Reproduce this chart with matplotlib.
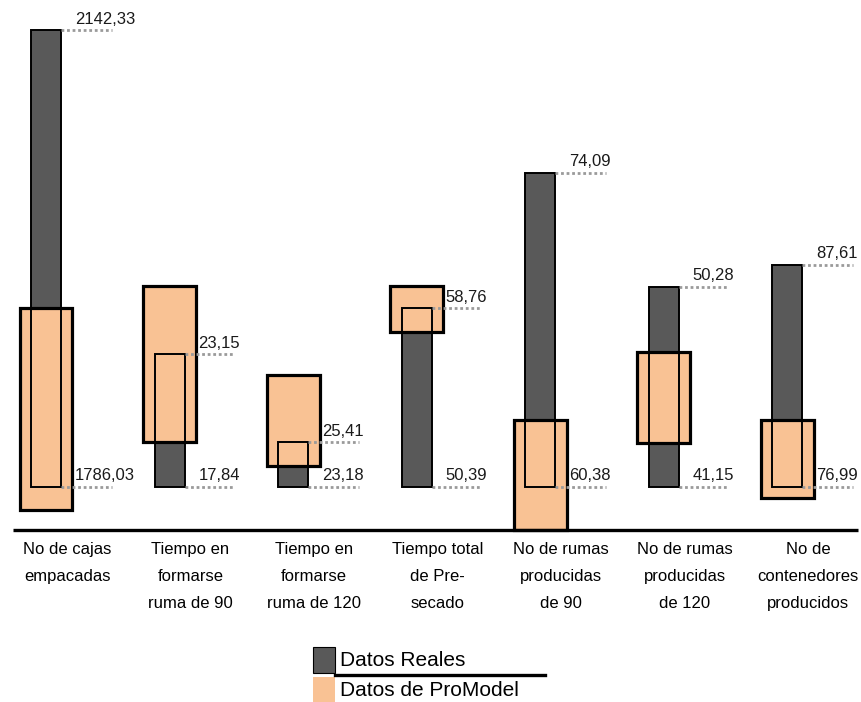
import matplotlib.pyplot as plt
from matplotlib import font_manager
from matplotlib.patches import Rectangle
from matplotlib.lines import Line2D

categories = [
    "No de cajas\nempacadas",
    "Tiempo en\nformarse\nruma de 90",
    "Tiempo en\nformarse\nruma de 120",
    "Tiempo total\nde Pre-\nsecado",
    "No de rumas\nproducidas\nde 90",
    "No de rumas\nproducidas\nde 120",
    "No de\ncontenedores\nproducidos",
]

# bar extents (chart units, baseline line = 0)
real_low = [8.6, 8.6, 8.6, 8.6, 8.6, 8.6, 8.6]
real_high = [100.0, 35.2, 17.6, 44.4, 71.4, 48.6, 53.0]
model_low = [4.0, 17.6, 12.8, 39.6, 0.0, 17.4, 6.4]
model_high = [44.4, 48.8, 31.0, 48.8, 22.0, 35.6, 22.0]

top_labels = ["2142,33", "23,15", "25,41", "58,76", "74,09", "50,28", "87,61"]
bottom_labels = ["1786,03", "17,84", "23,18", "50,39", "60,38", "41,15", "76,99"]

series = ["Datos Reales", "Datos de ProModel"]

dark = "#595959"
orange = "#F9C294"

names = {f.name for f in font_manager.fontManager.ttflist}
narrow = "Liberation Sans Narrow" if "Liberation Sans Narrow" in names else "Liberation Sans"
plt.rcParams["font.family"] = ["Liberation Sans", "DejaVu Sans"]

fig = plt.figure(figsize=(8.61, 7.02), dpi=100)
ax = fig.add_axes([0, 0, 1, 1])
ax.set_xlim(-0.5425, 6.429)
ax.set_ylim(-34.4, 106)
ax.axis("off")

x = [i - 0.17 for i in range(len(categories))]
w_real = 0.243
w_model = 0.429

real_h = [h - l for h, l in zip(real_high, real_low)]
model_h = [h - l for h, l in zip(model_high, model_low)]

ax.bar(x, real_h, bottom=real_low, width=w_real, color=dark, zorder=2)
ax.bar(x, model_h, bottom=model_low, width=w_model, color=orange,
       edgecolor="black", linewidth=2.3, zorder=3)
ax.bar(x, real_h, bottom=real_low, width=w_real, fill=False,
       edgecolor="black", linewidth=1.4, zorder=4)

for xi, lo, hi, tl, bl in zip(x, real_low, real_high, top_labels, bottom_labels):
    for val, lab in ((hi, tl), (lo, bl)):
        ax.hlines(val, xi + w_real / 2, xi + 0.534, colors="#9a9a9a",
                  linestyles=(0, (1, 1)), linewidth=2, zorder=5)
        ax.text(xi + 0.235, val + 1.3, lab, family=narrow, fontsize=12,
                color="#1a1a1a", ha="left", va="baseline", zorder=6)

ax.hlines(0, -0.437, 6.405, colors="black", linewidth=2.4, zorder=6)

for i, cat in enumerate(categories):
    ax.text(i, -2.4, cat, family=narrow, fontsize=12, ha="center",
            va="top", linespacing=2.0, color="black")

# legend, built by hand: two stacked swatches with a rule between the rows
W, H = 861, 702
fig.add_artist(Rectangle((313 / W, 1 - 673 / H), 22 / W, 26 / H,
                         facecolor=dark, edgecolor="black", linewidth=0.8))
fig.add_artist(Rectangle((313 / W, 0), 22 / W, 1 - 677 / H,
                         facecolor=orange, edgecolor="none"))
fig.text(340 / W, 1 - 661 / H, series[0], fontsize=15, va="center", ha="left")
fig.text(340 / W, 1 - 690 / H, series[1], fontsize=15, va="center", ha="left")
fig.add_artist(Line2D([335 / W, 545 / W], [1 - 675 / H, 1 - 675 / H],
                      color="black", linewidth=2.4))

fig.savefig("out.png", dpi=100)
